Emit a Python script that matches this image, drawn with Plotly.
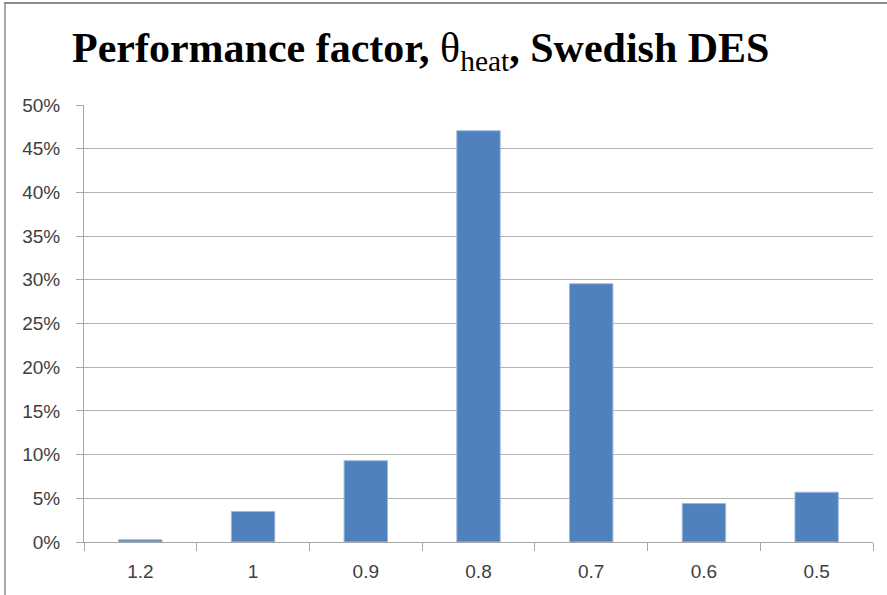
import plotly.graph_objects as go

categories = ["1.2", "1", "0.9", "0.8", "0.7", "0.6", "0.5"]
shares = [0.0025, 0.035, 0.093, 0.4705, 0.2955, 0.044, 0.057]
y_ticks = [0, 0.05, 0.10, 0.15, 0.20, 0.25, 0.30, 0.35, 0.40, 0.45, 0.50]
y_tick_labels = ["0%", "5%", "10%", "15%", "20%", "25%", "30%", "35%", "40%", "45%", "50%"]

W, H = 887, 595
L, R, T, B = 84, 14, 105, 53
pw = W - L - R
ph = H - T - B

fig = go.Figure(go.Bar(
    x=categories, y=shares,
    marker=dict(color="#4F81BD", line=dict(color="#9fb9dc", width=1)),
    width=0.385,
))

fig.update_layout(
    width=W, height=H,
    margin=dict(l=L, r=R, t=T, b=B, autoexpand=False),
    paper_bgcolor="white", plot_bgcolor="white",
    showlegend=False,
    title=dict(
        text="<b>Performance factor, </b>θ<sub>heat</sub><b>, Swedish DES</b>",
        font=dict(family="Liberation Serif", size=42, color="black"),
        x=72 / W, xanchor="left", y=1 - 47 / H, yanchor="middle",
    ),
    font=dict(family="Liberation Sans", color="#404040", size=19),
)
fig.update_xaxes(
    type="category", showline=True, linecolor="#a6a6a6", linewidth=1,
    ticks="outside", tickson="boundaries", ticklen=8, tickcolor="#a6a6a6",
    tickfont=dict(size=19, color="#404040"), showgrid=False, fixedrange=True,
    ticklabelstandoff=12,
)
fig.update_yaxes(
    range=[0, 0.5], tickvals=y_ticks, ticktext=y_tick_labels,
    showline=True, linecolor="#a6a6a6", linewidth=1,
    ticks="outside", ticklen=7, tickcolor="#a6a6a6",
    showgrid=True, gridcolor="#b3b3b3", gridwidth=1, zeroline=False,
    tickfont=dict(size=19, color="#404040"), fixedrange=True,
    ticklabelstandoff=12,
)

# outer frame (top and left edges visible in reference)
top_y = 1 + (T - 3) / ph
fig.add_shape(type="line", xref="paper", yref="paper",
              x0=(4 - L) / pw, x1=(W - L) / pw, y0=top_y, y1=top_y,
              line=dict(color="#8c8c8c", width=2))
fig.add_shape(type="line", xref="paper", yref="paper",
              x0=(5 - L) / pw, x1=(5 - L) / pw, y0=top_y, y1=-B / ph,
              line=dict(color="#8c8c8c", width=1.5))

fig.write_html("out.html", config={"displayModeBar": False},
               post_script="document.body.style.margin='0';")
